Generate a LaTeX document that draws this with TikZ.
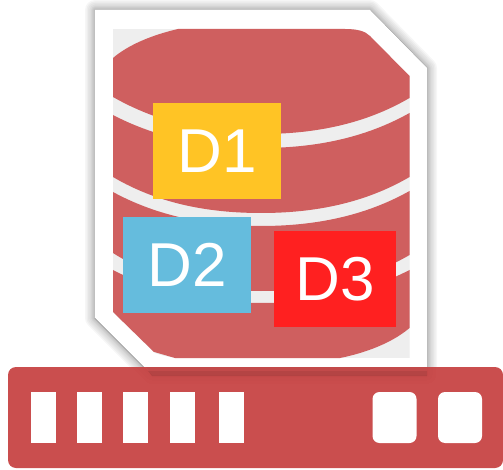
\documentclass[tikz,border=0pt]{standalone}
\usepackage{fontspec}
\setmainfont{Liberation Sans}
\definecolor{cylred}{HTML}{CF5F5F}
\definecolor{cylgap}{HTML}{EEEEEE}
\definecolor{barred}{HTML}{C74444}
\definecolor{dyellow}{HTML}{FFC425}
\definecolor{dblue}{HTML}{65BCDD}
\definecolor{dred}{HTML}{FF2020}
\tikzset{
  dbox/.style={inner sep=0pt,outer sep=0pt,text=white,font=\fontsize{62}{62}\selectfont,minimum height=96pt},
  slot/.style={fill=white,inner sep=0pt,outer sep=0pt,minimum width=25pt,minimum height=51pt},
  pad/.style={fill=white,inner sep=0pt,outer sep=0pt,minimum width=44pt,minimum height=51pt,rounded corners=7pt},
}
\begin{document}
\begin{tikzpicture}[x=1pt,y=-1pt]
\useasboundingbox (0,0) rectangle (503,470);
\def\cardpath{(95,10) -- (370,10) -- (427,68) -- (427,375) -- (152,375) -- (95,318) -- cycle}
% soft shadow
\foreach \w in {20,17,14,11,8,6,4,2}{
  \draw[black,opacity=.035,line width=\w pt,line join=round] \cardpath;
}
\draw[black!40,line width=.7pt] (370,10) -- (427,68) -- (427,375);
\draw[black!55,line width=1pt] (95,318) -- (152,375);
\draw[black!20,line width=.6pt] (95,318) -- (95,10) -- (370,10);
\fill[white] \cardpath;
% cylinder
\begin{scope}
  \clip (113,29) -- (345,29) .. controls (357,29) and (365,31) .. (370,36) -- (409.5,76)
     -- (409.5,358) -- (175,358) .. controls (165,356) and (160,355) .. (155,353) -- (113,312) -- cycle;
  \fill[cylgap] (113,29) rectangle (409.5,358);
  % lid
  \fill[cylred] (113,58) .. controls (128,45) and (152,35) .. (178,29) -- (345,29)
     -- (372,29) -- (409.5,60) -- (409.5,98)
     .. controls (365,124) and (315,134) .. (261,134)
     .. controls (207,134) and (157,122) .. (113,97) -- cycle;
  % upper drum
  \fill[cylred] (113,115) .. controls (157,138) and (207,148) .. (261,148)
     .. controls (315,148) and (365,138) .. (409.5,113) -- (409.5,177)
     .. controls (365,203) and (315,213) .. (261,213)
     .. controls (207,213) and (157,203) .. (113,177) -- cycle;
  % middle drum
  \fill[cylred] (113,192) .. controls (157,216) and (207,226) .. (261,226)
     .. controls (315,226) and (365,216) .. (409.5,191) -- (409.5,255)
     .. controls (365,281) and (315,291) .. (261,291)
     .. controls (207,291) and (157,281) .. (113,253) -- cycle;
  % lower drum
  \fill[cylred] (113,270) .. controls (157,293) and (207,303) .. (261,303)
     .. controls (315,303) and (365,293) .. (409.5,270) -- (409.5,328)
     .. controls (392,343) and (365,353) .. (340,358) -- (175,358)
     -- (113,340) -- cycle;
\end{scope}
% base bar
\fill[barred,opacity=.95,rounded corners=8pt] (8,367) rectangle (503,468);
\fill[black,opacity=.03] (146,367) -- (427,367) -- (427,376) -- (152,376) -- cycle;
\fill[black,opacity=.07] (148,371) -- (427,371) -- (427,376) -- (152,376) -- cycle;
\node[slot] (s1) at (43,417.5) {};
\node[slot] (s2) at (89.5,417.5) {};
\node[slot] (s3) at (135.5,417.5) {};
\node[slot] (s4) at (182,417.5) {};
\node[slot] (s5) at (231.5,417.5) {};
\node[pad] (p1) at (394.5,417.5) {};
\node[pad] (p2) at (460,417.5) {};
% data boxes
\node[dbox,fill=dyellow,minimum width=128pt] (d1) at (217,151) {D1};
\node[dbox,fill=dblue,minimum width=128pt] (d2) at (187,265) {D2};
\node[dbox,fill=dred,minimum width=122pt] (d3) at (335,279) {D3};
\end{tikzpicture}
\end{document}
